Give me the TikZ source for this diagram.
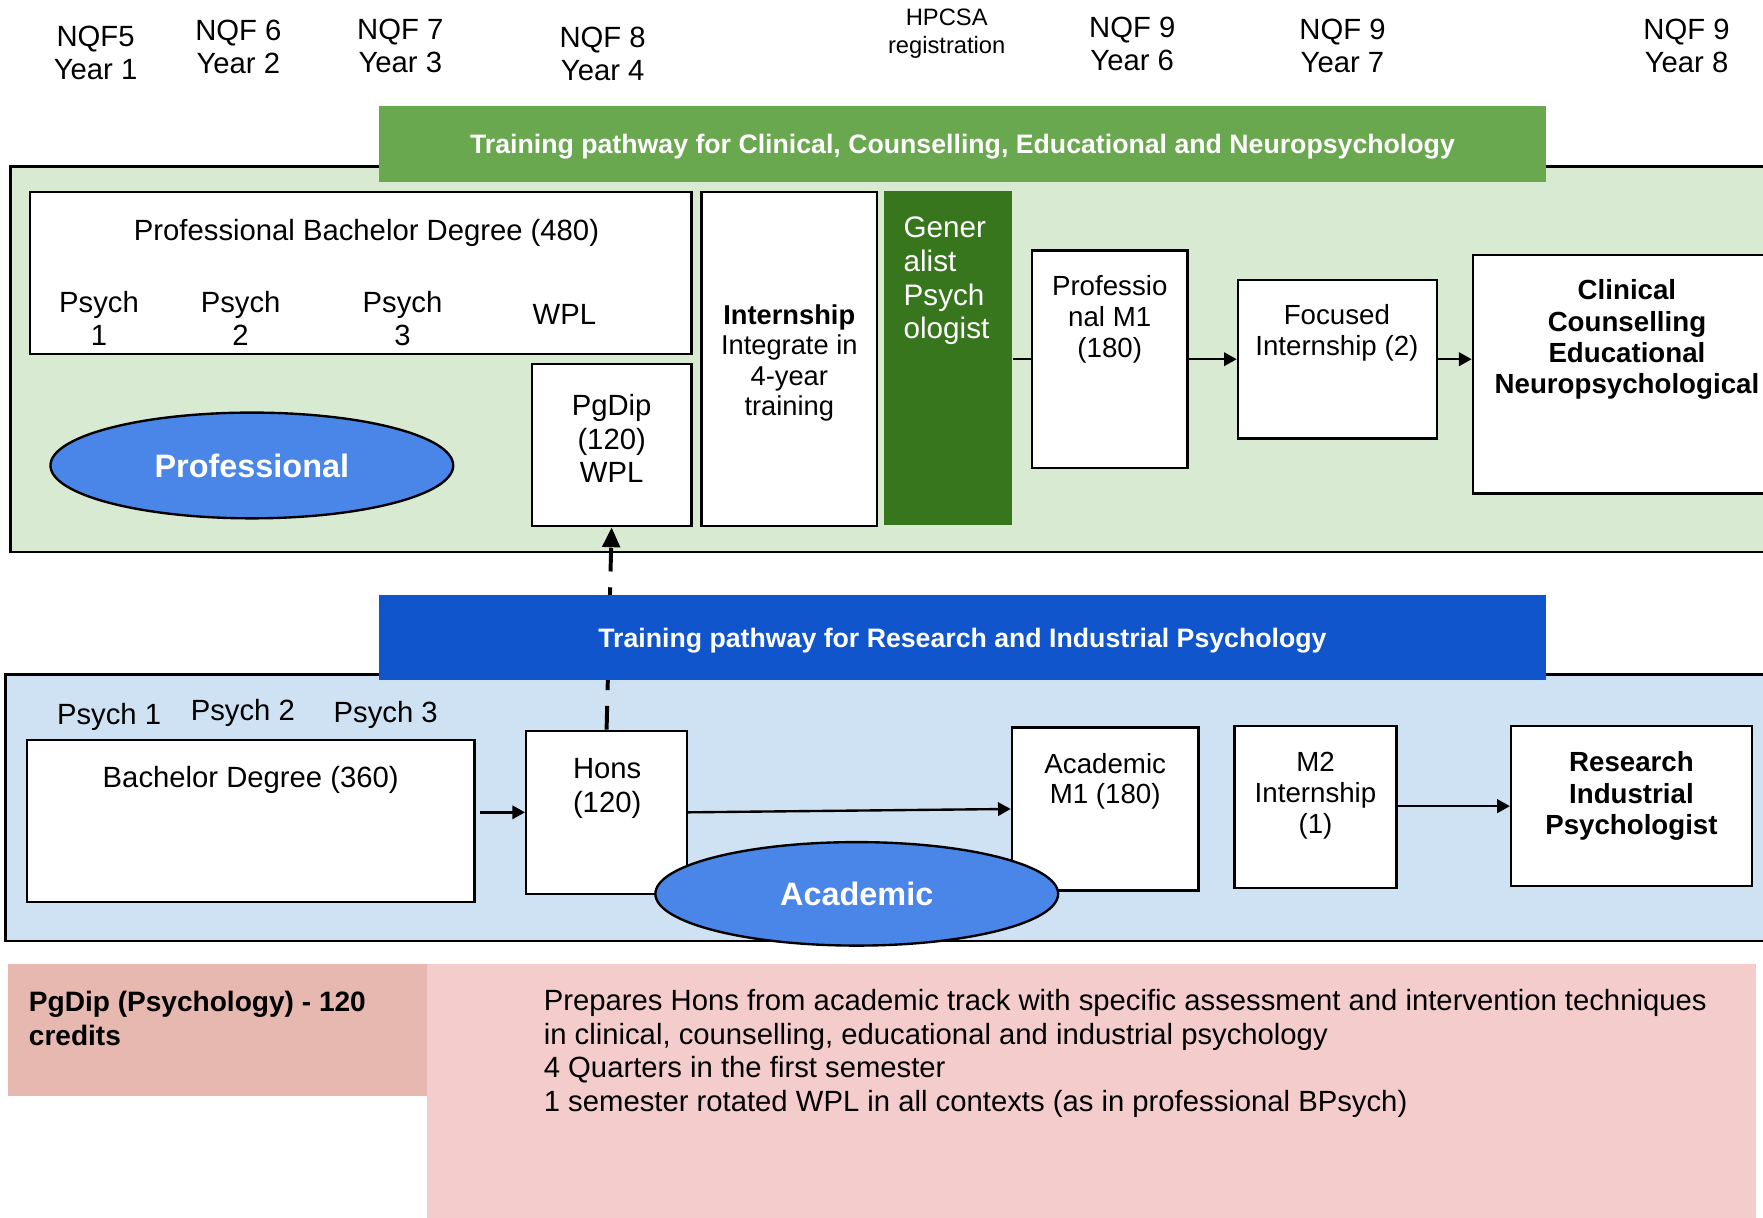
\documentclass[tikz,border=0pt]{standalone}
\usepackage{fontspec}
\setmainfont{Liberation Sans}
\usetikzlibrary{arrows.meta,shapes.geometric}
\definecolor{lgreen}{HTML}{D9EAD3}
\definecolor{bgreen}{HTML}{6AA84F}
\definecolor{dgreen}{HTML}{38761D}
\definecolor{ellblue}{HTML}{4A86E8}
\definecolor{bblue}{HTML}{1155CC}
\definecolor{lblue}{HTML}{CFE2F3}
\definecolor{pinkd}{HTML}{E6B8AF}
\definecolor{pinkl}{HTML}{F4CCCC}
\pgfdeclarelayer{back}
\pgfdeclarelayer{mid}
\pgfsetlayers{back,mid,main}
\begin{document}
\begin{tikzpicture}[x=0.01cm,y=-0.01cm,
  box/.style={draw=black,line width=0.6pt,fill=white,inner sep=0pt},
  panel/.style={draw=black,line width=0.7pt},
  txt/.style={font=\fontsize{7.4}{8.4}\selectfont,align=center,inner sep=0pt},
  btxt/.style={font=\bfseries\fontsize{7}{7.9}\selectfont,align=center,inner sep=0pt},
  banner/.style={inner sep=0pt,text=white,text depth=0pt,font=\bfseries\fontsize{6.75}{7.8}\selectfont},
  oval/.style={ellipse,draw=black,line width=0.6pt,fill=ellblue,text=white,font=\bfseries\fontsize{8.2}{9}\selectfont,inner sep=0pt},
  arr/.style={line width=0.6pt,-{Triangle[length=3.2pt,width=3.4pt]}},
]
\useasboundingbox (0,0) rectangle (1568,1083);

% ---------- top labels ----------
\node[txt] (nqf5) at (85,47) {NQF5\\Year 1};
\node[txt] (nqf6) at (212,42) {NQF 6\\Year 2};
\node[txt] (nqf7) at (356,41) {NQF 7\\Year 3};
\node[txt] (nqf8) at (536,48) {NQF 8\\Year 4};
\node[txt,font=\fontsize{6}{7.1}\selectfont] (hpcsa) at (842,30) {HPCSA\\registration};
\node[txt] (nqf9a) at (1007,39) {NQF 9\\Year 6};
\node[txt] (nqf9b) at (1194,41) {NQF 9\\Year 7};
\node[txt] (nqf9c) at (1500,41) {NQF 9\\Year 8};

% ---------- panels ----------
\begin{pgfonlayer}{back}
  \draw[panel,fill=lgreen] (9,148) rectangle (1600,491);
  \draw[panel,fill=lblue] (5,600) rectangle (1600,837);
  \fill[pinkd] (7,857) rectangle (380,975);
  \fill[pinkl] (380,857) rectangle (1562,1100);
\end{pgfonlayer}

% ---------- banners ----------
\node[banner,fill=bgreen,minimum width=10.38cm,minimum height=0.68cm] (gbanner) at (856,128)
  {Training pathway for Clinical, Counselling, Educational and Neuropsychology};
\node[banner,fill=bblue,minimum width=10.38cm,minimum height=0.76cm] (bbanner) at (856,567)
  {Training pathway for Research and Industrial Psychology};

% ---------- professional track ----------
\node[box,minimum width=5.88cm,minimum height=1.44cm] (pbd) at (321,243) {};
\node[txt] (pbdt) at (326,207) {Professional Bachelor Degree (480)};
\node[txt] (ps1) at (88,283) {Psych\\1};
\node[txt] (ps2) at (214,283) {Psych\\2};
\node[txt] (ps3) at (358,283) {Psych\\3};
\node[txt] (wpl) at (502,280) {WPL};

\node[box,minimum width=1.42cm,minimum height=1.44cm] (pgdip) at (544,396) {};
\node[txt,font=\fontsize{7.4}{8.5}\selectfont] (pgdipt) at (544,390) {PgDip\\(120)\\WPL};

\node[box,minimum width=1.56cm,minimum height=2.97cm] (intern) at (702,319.5) {};
\node[txt,font=\fontsize{6.9}{7.7}\selectfont] (internt) at (702,323) {\textbf{Internship}\\Integrate in\\4-year\\training};

\node[fill=dgreen,inner sep=0pt,minimum width=1.14cm,minimum height=2.97cm] (gen) at (843,318.5) {};
\node[txt,align=left,anchor=west,text=white,font=\fontsize{7.5}{8.5}\selectfont] (gent) at (803,250) {Gener\\alist\\Psych\\ologist};

\node[box,minimum width=1.38cm,minimum height=1.93cm] (pm1) at (987,319.5) {};
\node[txt,font=\fontsize{7}{7.8}\selectfont] (pm1t) at (987,284) {Professio\\nal M1\\(180)};

\node[box,minimum width=1.77cm,minimum height=1.41cm] (focus) at (1189.5,319.5) {};
\node[txt,font=\fontsize{7}{7.9}\selectfont] (focust) at (1189,296) {Focused\\Internship (2)};

\node[box,minimum width=2.70cm,minimum height=2.12cm] (clin) at (1445,333) {};
\node[btxt] (clint) at (1447,302) {Clinical\\Counselling\\Educational\\Neuropsychological};

\node[oval,minimum width=3.58cm,minimum height=0.94cm] (prof) at (224,414) {Professional};

\draw[line width=0.6pt] (gen.east |- pm1.west) -- (pm1.west);
\draw[arr] (pm1.east) -- (focus.west);
\draw[arr] (focus.east) -- (focus.east -| clin.west);

% ---------- academic track ----------
\node[txt] (a1) at (97,638) {Psych 1};
\node[txt] (a2) at (216,634) {Psych 2};
\node[txt] (a3) at (343,636) {Psych 3};

\node[box,minimum width=3.98cm,minimum height=1.44cm] (bach) at (223,730) {};
\node[txt] (bacht) at (223,694) {Bachelor Degree (360)};

\node[box,minimum width=1.43cm,minimum height=1.45cm] (hons) at (539.5,722.5) {};
\node[txt,font=\fontsize{7.4}{8.5}\selectfont] (honst) at (540,701) {Hons\\(120)};

\node[box,minimum width=1.66cm,minimum height=1.45cm] (am1) at (983,719.5) {};
\node[txt,font=\fontsize{7}{7.7}\selectfont] (am1t) at (983,695) {Academic\\M1 (180)};

\node[box,minimum width=1.44cm,minimum height=1.44cm] (m2) at (1170,718) {};
\node[txt,font=\fontsize{7}{7.8}\selectfont] (m2t) at (1170,708) {M2\\Internship\\(1)};

\node[box,minimum width=2.14cm,minimum height=1.42cm] (res) at (1451,717) {};
\node[btxt] (rest) at (1451,708) {Research\\Industrial\\Psychologist};

\draw[arr] ([xshift=0.04cm]bach.east |- hons.west) -- (hons.west);
\draw[arr] (hons.east) -- (am1.west);
\draw[arr] (m2.east |- res.west) -- (res.west);

\node[oval,minimum width=3.58cm,minimum height=0.92cm] (acad) at (762,795) {Academic};

\begin{pgfonlayer}{mid}
  \draw[line width=1pt,dash pattern=on 6pt off 4pt,-{Triangle[length=5pt,width=4.4pt]}] (hons.north) -- (pgdip.south);
\end{pgfonlayer}

% ---------- bottom notes ----------
\node[txt,align=left,anchor=west,font=\bfseries\fontsize{7.1}{8.5}\selectfont] (pgnote) at (25,906)
  {PgDip (Psychology) - 120\\credits};
\node[txt,align=left,anchor=west,font=\fontsize{7.4}{8.5}\selectfont] (desc) at (483,937)
  {Prepares Hons from academic track with specific assessment and intervention techniques\\
   in clinical, counselling, educational and industrial psychology\\
   4 Quarters in the first semester\\
   1 semester rotated WPL in all contexts (as in professional BPsych)};
\end{tikzpicture}
\end{document}
